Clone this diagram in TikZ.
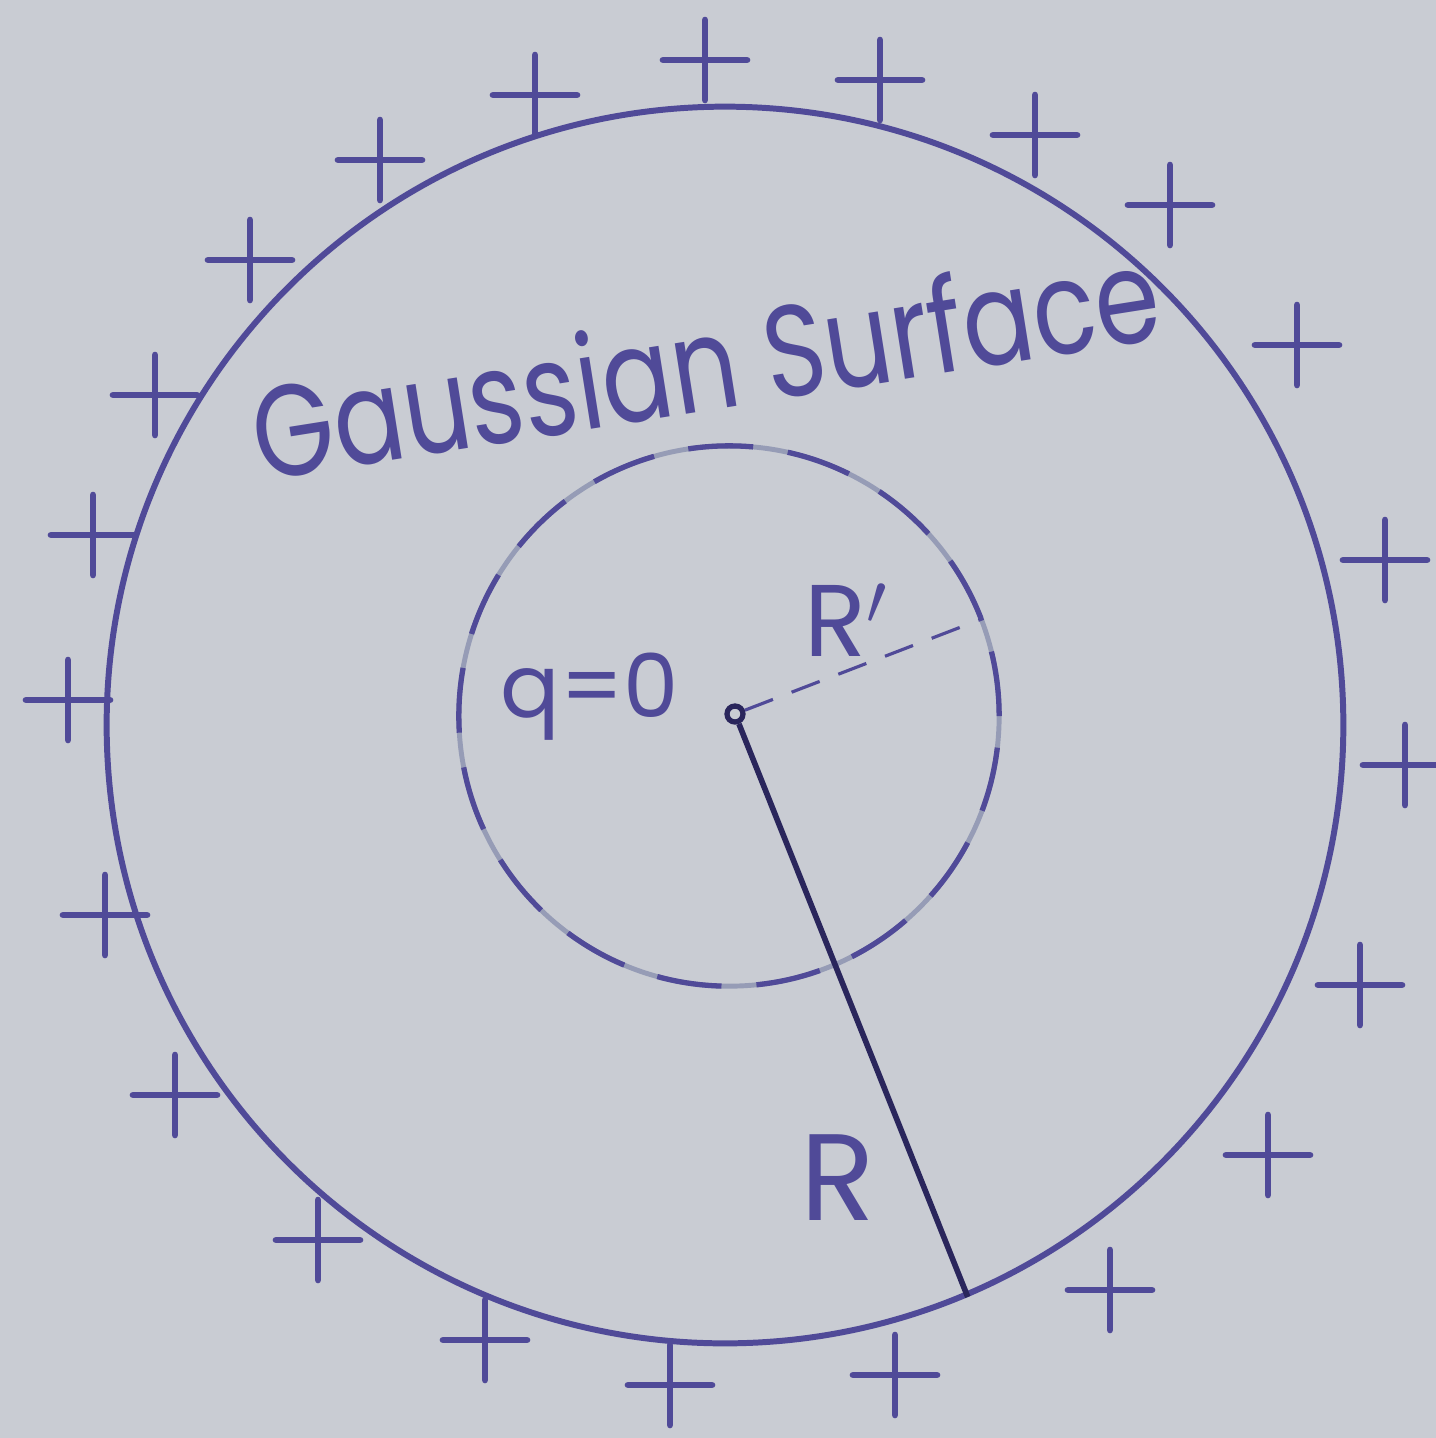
\documentclass[tikz,border=0pt]{standalone}
\usepackage{fontspec}
\setmainfont{Poppins}
\definecolor{paper}{RGB}{201,204,211}
\definecolor{inkblue}{RGB}{80,74,152}
\definecolor{darkink}{RGB}{42,38,92}
\definecolor{faint}{RGB}{150,156,182}
\begin{document}
\begin{tikzpicture}[x=0.01cm, y=-0.01cm,
    ink/.style={draw=inkblue, line width=1.7pt},
    lbl/.style={text=inkblue, inner sep=0pt},
    chg/.pic={\draw[inkblue, line width=1.9pt, line cap=round] (-42,0) -- (42,0) (0,-40) -- (0,40);}
  ]
  \fill[paper] (0,0) rectangle (1436,1438);
  \useasboundingbox (0,0) rectangle (1436,1438);
  % charged shell and gaussian surface
  \node[circle, ink, minimum size=12.36cm, inner sep=0pt] (shell) at (725,725) {};
  \node[circle, draw=faint, line width=1.4pt, minimum size=5.4cm, inner sep=0pt] (gauss) at (729,716) {};
  \draw[inkblue, line width=1.5pt, dash pattern=on 6.5mm off 3.5mm] (gauss.center) circle[radius=2.7cm];
  \node[circle, draw=darkink, line width=1.5pt, minimum size=0.16cm, inner sep=0pt] (ctr) at (735,714) {};
  \draw[darkink, line width=1.6pt] (ctr) -- (shell.-67.4);
  \draw[inkblue, line width=0.9pt, dash pattern=on 3mm off 2mm] (ctr) -- (gauss.21);
  \foreach \px/\py in {535/95, 705/60, 880/80, 1035/135, 1170/205, 1297/345, 1385/560,
      1405/765, 1360/985, 1268/1155, 1110/1290, 895/1375, 670/1385, 485/1340, 318/1240,
      175/1095, 105/915, 68/700, 93/535, 155/395, 250/260, 380/160}
    \pic at (\px,\py) {chg};
  \node[lbl, font=\fontsize{37}{37}\selectfont, anchor=base, rotate=9, xscale=0.8] (title) at (713,410) {Gaussian Surface};
  \node[lbl, font=\fontsize{25}{25}\selectfont] (charge) at (590,697) {q=0};
  \node[lbl, font=\fontsize{29}{29}\selectfont] (rin) at (846,620) {R$'$};
  \node[lbl, font=\fontsize{35}{35}\selectfont] (rout) at (838,1178) {R};
\end{tikzpicture}
\end{document}
